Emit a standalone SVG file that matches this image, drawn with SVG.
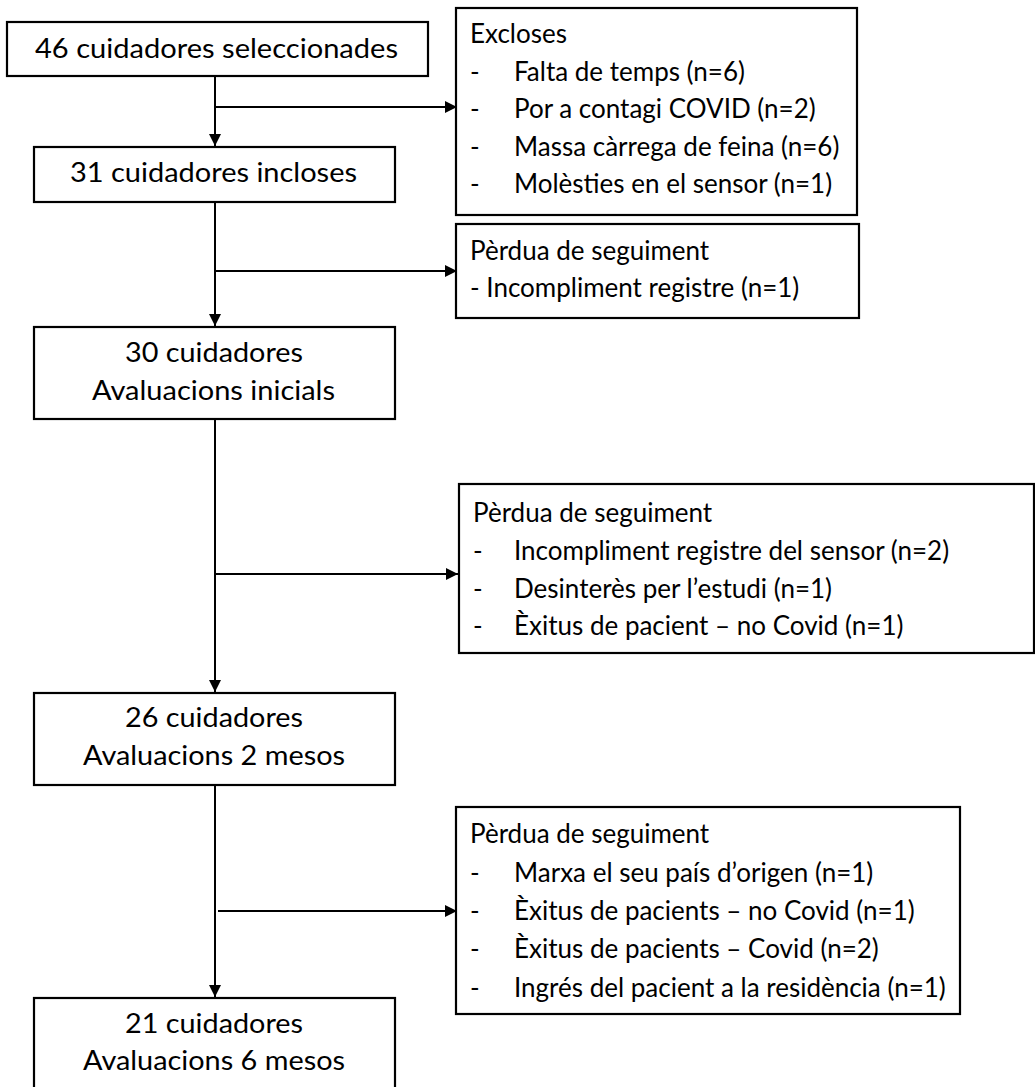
<svg xmlns="http://www.w3.org/2000/svg" width="1035" height="1087" viewBox="0 0 1035 1087">
<style>
.box{fill:#fff;stroke:#000;stroke-width:2.2}
.t{font-family:Lato,"Open Sans","Liberation Sans",sans-serif;font-size:26px;fill:#000}
.c{text-anchor:middle;font-size:27px}
.ln{stroke:#000;stroke-width:2;fill:none}
</style>
<defs>
<marker id="ah" markerWidth="14" markerHeight="14" refX="12" refY="6" orient="auto" markerUnits="userSpaceOnUse">
<path d="M0,0 L12,6 L0,12 Z" fill="#000"/>
</marker>
</defs>
<rect width="1035" height="1087" fill="#fff"/>
<g id="connectors">
<line class="ln" x1="215" y1="76" x2="215" y2="146" marker-end="url(#ah)"/>
<line class="ln" x1="215" y1="107" x2="457" y2="107" marker-end="url(#ah)"/>
<line class="ln" x1="215" y1="202" x2="215" y2="326" marker-end="url(#ah)"/>
<line class="ln" x1="215" y1="271" x2="457" y2="271" marker-end="url(#ah)"/>
<line class="ln" x1="215" y1="419" x2="215" y2="692" marker-end="url(#ah)"/>
<line class="ln" x1="215" y1="574" x2="458" y2="574" marker-end="url(#ah)"/>
<line class="ln" x1="215" y1="785" x2="215" y2="997" marker-end="url(#ah)"/>
<line class="ln" x1="218" y1="911" x2="457" y2="911" marker-end="url(#ah)"/>
</g>
<g id="n1">
<rect class="box" x="7" y="22" width="421" height="54"/>
<text class="t c" x="216.5" y="58" textLength="363" lengthAdjust="spacingAndGlyphs">46 cuidadores seleccionades</text>
</g>
<g id="n2">
<rect class="box" x="34" y="147" width="361" height="55"/>
<text class="t c" x="213.5" y="182" textLength="287" lengthAdjust="spacingAndGlyphs">31 cuidadores incloses</text>
</g>
<g id="n3">
<rect class="box" x="34" y="327" width="361" height="92"/>
<text class="t c" x="214" y="362" textLength="178" lengthAdjust="spacingAndGlyphs">30 cuidadores</text>
<text class="t c" x="213.5" y="400" textLength="243" lengthAdjust="spacingAndGlyphs">Avaluacions inicials</text>
</g>
<g id="n4">
<rect class="box" x="34" y="693" width="361" height="92"/>
<text class="t c" x="214" y="727" textLength="178" lengthAdjust="spacingAndGlyphs">26 cuidadores</text>
<text class="t c" x="214" y="765" textLength="262" lengthAdjust="spacingAndGlyphs">Avaluacions 2 mesos</text>
</g>
<g id="n5">
<rect class="box" x="34" y="998" width="361" height="95"/>
<text class="t c" x="214" y="1033" textLength="178" lengthAdjust="spacingAndGlyphs">21 cuidadores</text>
<text class="t c" x="214" y="1070" textLength="262" lengthAdjust="spacingAndGlyphs">Avaluacions 6 mesos</text>
</g>
<g id="e1">
<rect class="box" x="456" y="8" width="401" height="207"/>
<text class="t" x="470" y="43">Excloses</text>
<text class="t" x="470" y="81">-</text><text class="t" x="514" y="81">Falta de temps (n=6)</text>
<text class="t" x="470" y="118">-</text><text class="t" x="514" y="118">Por a contagi COVID (n=2)</text>
<text class="t" x="470" y="156">-</text><text class="t" x="514" y="156">Massa càrrega de feina (n=6)</text>
<text class="t" x="470" y="193">-</text><text class="t" x="514" y="193">Molèsties en el sensor (n=1)</text>
</g>
<g id="e2">
<rect class="box" x="456" y="224" width="403" height="94"/>
<text class="t" x="470" y="260">Pèrdua de seguiment</text>
<text class="t" x="470" y="297">- Incompliment registre (n=1)</text>
</g>
<g id="e3">
<rect class="box" x="459" y="484" width="575" height="169"/>
<text class="t" x="473" y="522">Pèrdua de seguiment</text>
<text class="t" x="473" y="560">-</text><text class="t" x="514" y="560">Incompliment registre del sensor (n=2)</text>
<text class="t" x="473" y="598">-</text><text class="t" x="514" y="598">Desinterès per l’estudi (n=1)</text>
<text class="t" x="473" y="635">-</text><text class="t" x="514" y="635">Èxitus de pacient – no Covid (n=1)</text>
</g>
<g id="e4">
<rect class="box" x="456" y="807" width="504" height="207"/>
<text class="t" x="470" y="843">Pèrdua de seguiment</text>
<text class="t" x="470" y="882">-</text><text class="t" x="514" y="882">Marxa el seu país d’origen (n=1)</text>
<text class="t" x="470" y="920">-</text><text class="t" x="514" y="920">Èxitus de pacients – no Covid (n=1)</text>
<text class="t" x="470" y="958">-</text><text class="t" x="514" y="958">Èxitus de pacients – Covid (n=2)</text>
<text class="t" x="470" y="997">-</text><text class="t" x="514" y="997">Ingrés del pacient a la residència (n=1)</text>
</g>
</svg>
